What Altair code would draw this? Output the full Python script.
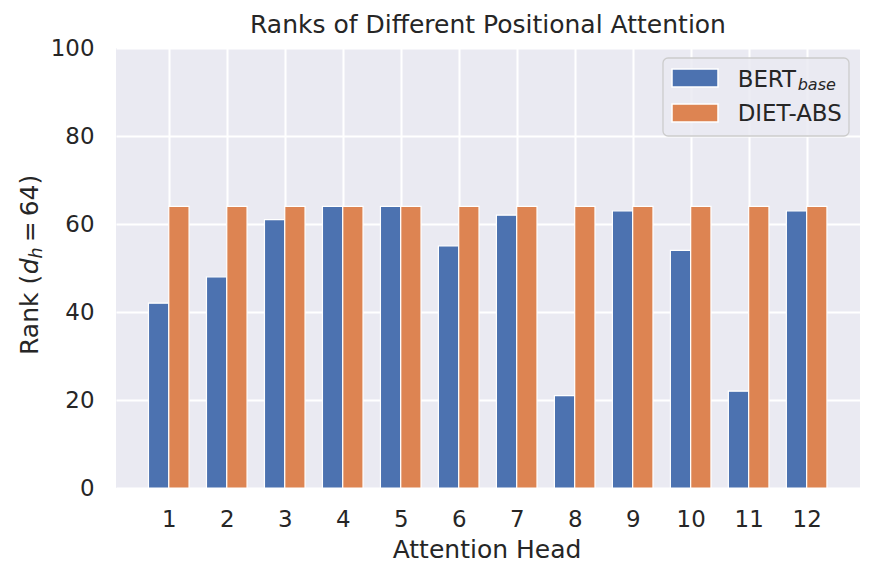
import altair as alt
import pandas as pd

heads = [1, 2, 3, 4, 5, 6, 7, 8, 9, 10, 11, 12]
bert = [42, 48, 61, 64, 64, 55, 62, 21, 63, 54, 22, 63]
diet = [64, 64, 64, 64, 64, 64, 64, 64, 64, 64, 64, 64]
series = ["BERT_base", "DIET-ABS"]
colors = ["#4C72B0", "#DD8452"]
y_ticks = [0, 20, 40, 60, 80, 100]

rows = []
for h, b, d in zip(heads, bert, diet):
    rows.append({"head": h, "series": series[0], "rank": b, "side": -1})
    rows.append({"head": h, "series": series[1], "rank": d, "side": 1})
df = pd.DataFrame(rows)

TXT = "#262626"
FONT = "DejaVu Sans"
W, H = 744, 440
one = alt.Data(values=[{}])

bars = alt.Chart(df).transform_calculate(
    x0="datum.head + (datum.side < 0 ? -0.35 : 0)",
    x1="datum.head + (datum.side < 0 ? 0 : 0.35)",
    base="0",
).mark_bar(stroke="white", strokeWidth=1.2).encode(
    x=alt.X("x0:Q", scale=alt.Scale(domain=[0.09, 12.92], nice=False, zero=False),
            axis=alt.Axis(values=heads, title=None, labelPadding=20, format="d")),
    x2="x1:Q",
    y=alt.Y("rank:Q", stack=None, scale=alt.Scale(domain=[0, 100], nice=False),
            axis=alt.Axis(values=y_ticks, title=None, labelPadding=22, format="d")),
    y2="base:Q",
    color=alt.Color("series:N", scale=alt.Scale(domain=series, range=colors), legend=None),
)

def txt(text, x, y, size=25, style="normal", angle=0, align="left"):
    return alt.Chart(one).mark_text(
        text=text, font=FONT, fontSize=size, fontStyle=style, color=TXT,
        angle=angle, align=align, baseline="alphabetic",
    ).encode(x=alt.value(x), y=alt.value(y))

title = txt("Ranks of Different Positional Attention", 372, -15, align="center")
xtitle = txt("Attention Head", 371, 510, align="center")

yx = -78.5
y_parts = [
    txt("Rank (", yx, 307, angle=270),
    txt("d", yx, 226.3, style="italic", angle=270),
    txt("h", yx + 4.5, 210.4, size=17.5, style="italic", angle=270),
    txt("=", yx, 194.3, angle=270),
    txt("64)", yx, 168.3, angle=270),
]

legend_box = alt.Chart(one).mark_rect(
    fill="#EAEAF2", fillOpacity=0.85, stroke="#CCCCCC", strokeWidth=1.3, cornerRadius=5
).encode(x=alt.value(547), x2=alt.value(733), y=alt.value(10), y2=alt.value(88))

sw_blue = alt.Chart(one).mark_rect(fill=colors[0], stroke="white", strokeWidth=1.5).encode(
    x=alt.value(556), x2=alt.value(602), y=alt.value(21), y2=alt.value(39))
sw_orange = alt.Chart(one).mark_rect(fill=colors[1], stroke="white", strokeWidth=1.5).encode(
    x=alt.value(556), x2=alt.value(602), y=alt.value(56), y2=alt.value(74))

leg_texts = [
    txt("BERT", 621.7, 38.7, size=22.9),
    txt("base", 681.7, 42.2, size=16, style="italic"),
    txt("DIET-ABS", 621.7, 72.7, size=22.9),
]

chart = alt.layer(
    bars, legend_box, sw_blue, sw_orange, *leg_texts, title, xtitle, *y_parts
).properties(
    width=W, height=H,
    padding={"left": 108, "top": 40, "right": 7, "bottom": 80},
    autosize=alt.AutoSizeParams(type="none"),
).configure(
    font=FONT
).configure_view(
    fill="#EAEAF2", stroke=None
).configure_axis(
    grid=True, gridColor="white", gridWidth=2, domain=False, ticks=False, tickSize=0,
    labelFont=FONT, labelFontSize=22.9, labelColor=TXT,
)

chart.save("out.html", embed_options={"renderer": "svg", "actions": False})
